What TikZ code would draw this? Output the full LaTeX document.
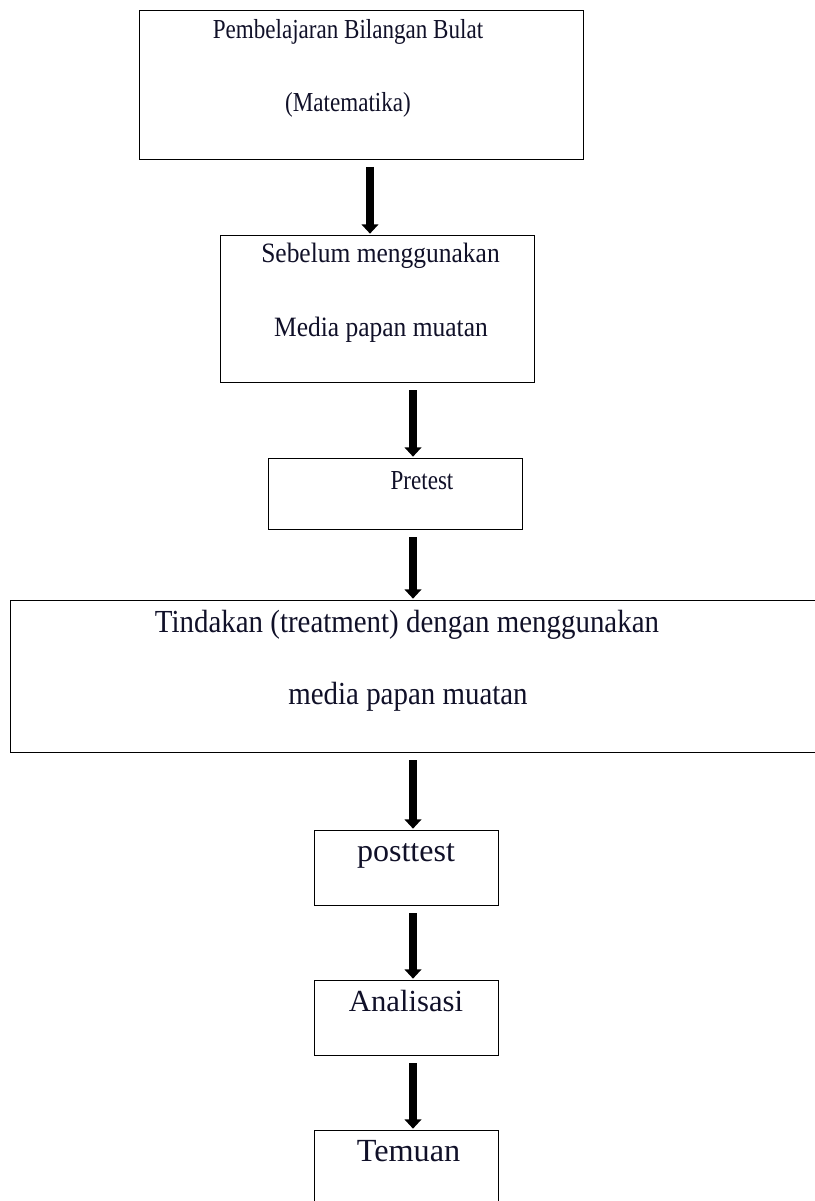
\documentclass[tikz,border=0pt]{standalone}
\usepackage{fontspec}
\setmainfont{Liberation Serif}
\newfontfamily\condA[FakeStretch=0.84]{Liberation Serif}
\newfontfamily\condB[FakeStretch=0.91]{Liberation Serif}
\newfontfamily\condC[FakeStretch=0.90]{Liberation Serif}
\usetikzlibrary{arrows.meta}
\definecolor{txtc}{RGB}{16,16,40}
\tikzset{
  boxnode/.style={draw=black, line width=1pt, rectangle, inner sep=0pt, anchor=north west},
  lbl/.style={text=txtc, inner sep=0pt, anchor=base},
  fa/.style={font=\condA\fontsize{20.6}{20}\selectfont},
  fb/.style={font=\condB\fontsize{21}{21}\selectfont},
  fc/.style={font=\condC\fontsize{24.1}{24}\selectfont},
  fsz/.style={font=\fontsize{#1}{#1}\selectfont},
  arr/.style={line width=5.3pt, -{Triangle[width=12.5pt,length=7pt]}, shorten <=5pt, shorten >=1pt}
}
\begin{document}
\begin{tikzpicture}[x=0.75pt,y=-0.75pt]
\useasboundingbox (0,0) rectangle (814,1201);
% boxes
\node[boxnode, minimum width=333pt, minimum height=111.75pt] (b1) at (139,10) {};
\node[boxnode, minimum width=235.5pt, minimum height=110.25pt] (b2) at (220,235) {};
\node[boxnode, minimum width=190.5pt, minimum height=53.25pt] (b3) at (268,458) {};
\node[boxnode, minimum width=613.5pt, minimum height=114pt] (b4) at (10,600) {};
\node[boxnode, minimum width=138pt, minimum height=56.25pt] (b5) at (314,830) {};
\node[boxnode, minimum width=138pt, minimum height=56.25pt] (b6) at (314,980) {};
\node[boxnode, minimum width=138pt, minimum height=66pt] (b7) at (314,1130) {};
% labels
\node[lbl, fa] (t1a) at (348,39) {Pembelajaran Bilangan Bulat};
\node[lbl, fa] (t1b) at (348,112) {(Matematika)};
\node[lbl, fb] (t2a) at (380.5,263) {Sebelum menggunakan};
\node[lbl, fb] (t2b) at (381,337) {Media papan muatan};
\node[lbl, fa] (t3) at (422,489) {Pretest};
\node[lbl, fc] (t4a) at (407,632) {Tindakan (treatment) dengan menggunakan};
\node[lbl, fc] (t4b) at (408,704) {media papan muatan};
\node[lbl, fsz=24] (t5) at (406,861) {posttest};
\node[lbl, fsz=23] (t6) at (406,1011) {Analisasi};
\node[lbl, fsz=24.2] (t7) at (408.5,1161) {Temuan};
% arrow columns
\coordinate (c1) at (370,0);
\coordinate (c2) at (413,0);
\draw[arr] (b1.south -| c1) -- (b2.north -| c1);
\draw[arr] (b2.south -| c2) -- (b3.north -| c2);
\draw[arr] (b3.south -| c2) -- (b4.north -| c2);
\draw[arr] (b4.south -| c2) -- (b5.north -| c2);
\draw[arr] (b5.south -| c2) -- (b6.north -| c2);
\draw[arr] (b6.south -| c2) -- (b7.north -| c2);
\end{tikzpicture}
\end{document}
